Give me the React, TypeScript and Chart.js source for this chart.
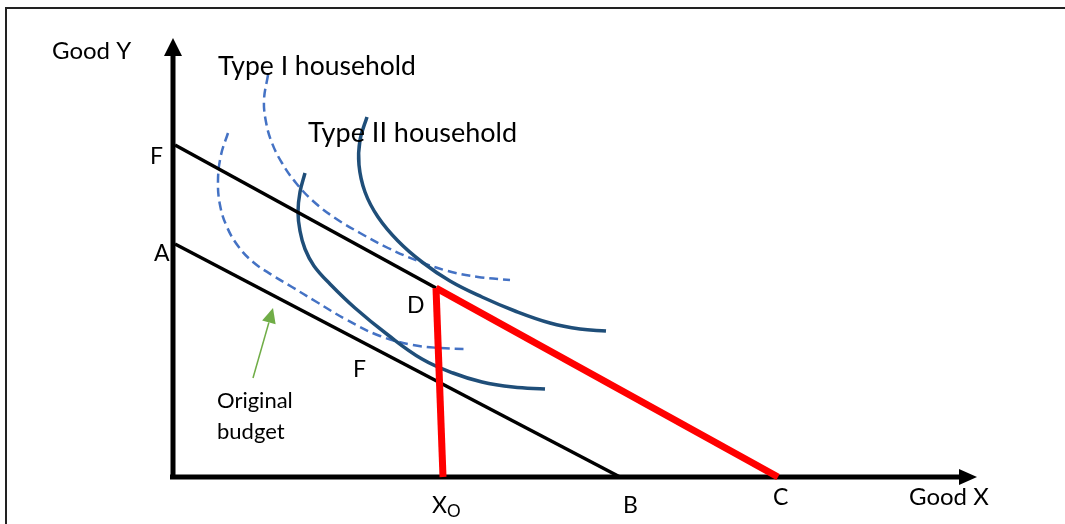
import React, { useEffect, useRef } from "react";
import { Chart, registerables } from "chart.js";

Chart.register(...registerables);

// ---- Data (quantities of Good X / Good Y, origin at the axes' corner) ----
const budgetFX = [2, 263];
const budgetFY = [332, 189];
const budgetAX = [2, 447];
const budgetAY = [233, 0];
const redDropX = [263, 270];
const redDropY = [189, 0];
const redKinkX = [263, 605];
const redKinkY = [189, 0];

const typeIOuterX = [95, 91, 93, 99, 109, 123, 140, 162, 187, 215, 245, 275, 305, 337];
const typeIOuterY = [402, 377, 355, 334, 314, 294, 276, 259, 244, 229, 216, 206, 200, 197];
const typeIInnerX = [55, 48, 45, 47, 54, 65, 80, 99, 119, 142, 174, 207, 240, 267, 294];
const typeIInnerY = [344, 322, 297, 272, 250, 231, 215, 202, 190, 176, 157, 141, 132, 129, 128];
const typeIIOuterX = [194, 187, 186, 192, 205, 225, 249, 277, 309, 342, 377, 407, 433];
const typeIIOuterY = [360, 337, 312, 285, 260, 236, 215, 196, 180, 166, 154, 148, 146];
const typeIIInnerX = [132, 127, 125, 127, 132, 141, 157, 182, 215, 249, 280, 309, 340, 372];
const typeIIInnerY = [304, 285, 265, 246, 228, 211, 193, 169, 142, 118, 104, 95, 90, 88];

const yAxisX = [0, 0];
const yAxisY = [-2, 424];
const xAxisX = [-3, 789];
const xAxisY = [0, 0];

// Text annotations
const labelTexts = ["Good Y", "Type I household", "Type II household", "F", "A", "D", "F", "X", "B", "C", "Good X", "Original", "budget"];
const labelX = [-121, 45, 135, -23, -19, 234, 180, 259, 450, 600, 736, 44, 44];
const labelY = [418, 402, 335, 313, 216, 164, 100, -36, -36, -28, -28, 69, 38];
const labelSize = [24, 26.5, 27, 23, 23, 23, 23, 23, 23, 23, 24, 22, 22];

const pts = (xs: number[], ys: number[]) => xs.map((x, i) => ({ x, y: ys[i] }));

const FONT = "Lato, 'Open Sans', sans-serif";

const overlay = {
  id: "overlay",
  beforeDraw(chart: any) {
    const ctx = chart.ctx;
    ctx.save();
    ctx.fillStyle = "#ffffff";
    ctx.fillRect(0, 0, chart.width, chart.height);
    ctx.strokeStyle = "#222";
    ctx.lineWidth = 2;
    ctx.beginPath();
    ctx.moveTo(chart.width, 8);
    ctx.lineTo(6, 8);
    ctx.lineTo(6, chart.height);
    ctx.stroke();
    ctx.restore();
  },
  afterDatasetsDraw(chart: any) {
    const ctx = chart.ctx;
    const xs = chart.scales.x;
    const ys = chart.scales.y;
    const px = (v: number) => xs.getPixelForValue(v);
    const py = (v: number) => ys.getPixelForValue(v);
    ctx.save();
    // axis arrowheads
    ctx.fillStyle = "#000";
    ctx.beginPath();
    ctx.moveTo(px(0), py(439));
    ctx.lineTo(px(0) - 9, py(421));
    ctx.lineTo(px(0) + 9, py(421));
    ctx.closePath();
    ctx.fill();
    ctx.beginPath();
    ctx.moveTo(px(804), py(0));
    ctx.lineTo(px(786), py(0) - 8);
    ctx.lineTo(px(786), py(0) + 8);
    ctx.closePath();
    ctx.fill();
    // green arrow
    ctx.strokeStyle = "#70AD47";
    ctx.fillStyle = "#70AD47";
    ctx.lineWidth = 1.5;
    const x0 = px(80), y0 = py(99), x1 = px(100), y1 = py(169);
    const ang = Math.atan2(y1 - y0, x1 - x0);
    const hl = 15, hw = 7;
    const bx = x1 - hl * Math.cos(ang), by = y1 - hl * Math.sin(ang);
    ctx.beginPath();
    ctx.moveTo(x0, y0);
    ctx.lineTo(bx, by);
    ctx.stroke();
    ctx.beginPath();
    ctx.moveTo(x1, y1);
    ctx.lineTo(bx + hw * Math.sin(ang), by - hw * Math.cos(ang));
    ctx.lineTo(bx - hw * Math.sin(ang), by + hw * Math.cos(ang));
    ctx.closePath();
    ctx.fill();
    // labels
    ctx.fillStyle = "#000";
    ctx.textBaseline = "alphabetic";
    ctx.textAlign = "left";
    labelTexts.forEach((t, i) => {
      ctx.font = `${labelSize[i]}px ${FONT}`;
      ctx.fillText(t, px(labelX[i]), py(labelY[i]));
      if (t === "X") {
        const w = ctx.measureText(t).width;
        ctx.font = `17px ${FONT}`;
        ctx.fillText("O", px(labelX[i]) + w, py(labelY[i]) + 4);
      }
    });
    ctx.restore();
  },
};

export default function App() {
  const ref = useRef<HTMLCanvasElement>(null);
  useEffect(() => {
    if (!ref.current) return;
    const solid = "#1F4E79";
    const dashed = "#4472C4";
    const line = (data: any, color: string, width: number, extra: any = {}) => ({
      data,
      borderColor: color,
      borderWidth: width,
      showLine: true,
      pointRadius: 0,
      fill: false,
      tension: 0,
      borderCapStyle: "butt",
      ...extra,
    });
    const chart = new Chart(ref.current, {
      type: "scatter",
      data: {
        datasets: [
          line(pts(redDropX, redDropY), "#FF0000", 7),
          line(pts(redKinkX, redKinkY), "#FF0000", 7),
          line(pts(yAxisX, yAxisY), "#000000", 5),
          line(pts(xAxisX, xAxisY), "#000000", 5),
          line(pts(budgetFX, budgetFY), "#000000", 3.5),
          line(pts(budgetAX, budgetAY), "#000000", 3.5),
          line(pts(typeIIOuterX, typeIIOuterY), solid, 3.5, { tension: 0.4 }),
          line(pts(typeIIInnerX, typeIIInnerY), solid, 3.5, { tension: 0.4 }),
          line(pts(typeIOuterX, typeIOuterY), dashed, 2.5, { tension: 0.4, borderDash: [9, 5] }),
          line(pts(typeIInnerX, typeIInnerY), dashed, 2.5, { tension: 0.4, borderDash: [9, 5] }),
        ],
      },
      options: {
        animation: false,
        responsive: false,
        devicePixelRatio: 1,
        layout: { padding: 0 },
        plugins: { legend: { display: false }, tooltip: { enabled: false }, title: { display: false } },
        scales: {
          x: { type: "linear", min: -173, max: 892, display: false },
          y: { type: "linear", min: -47, max: 477, display: false },
        },
      },
      plugins: [overlay],
    });
    return () => chart.destroy();
  }, []);
  return (
    <div style={{ position: "fixed", left: 0, top: 0, width: 1065, height: 524, background: "#fff" }}>
      <canvas ref={ref} width={1065} height={524} style={{ display: "block" }} />
    </div>
  );
}
